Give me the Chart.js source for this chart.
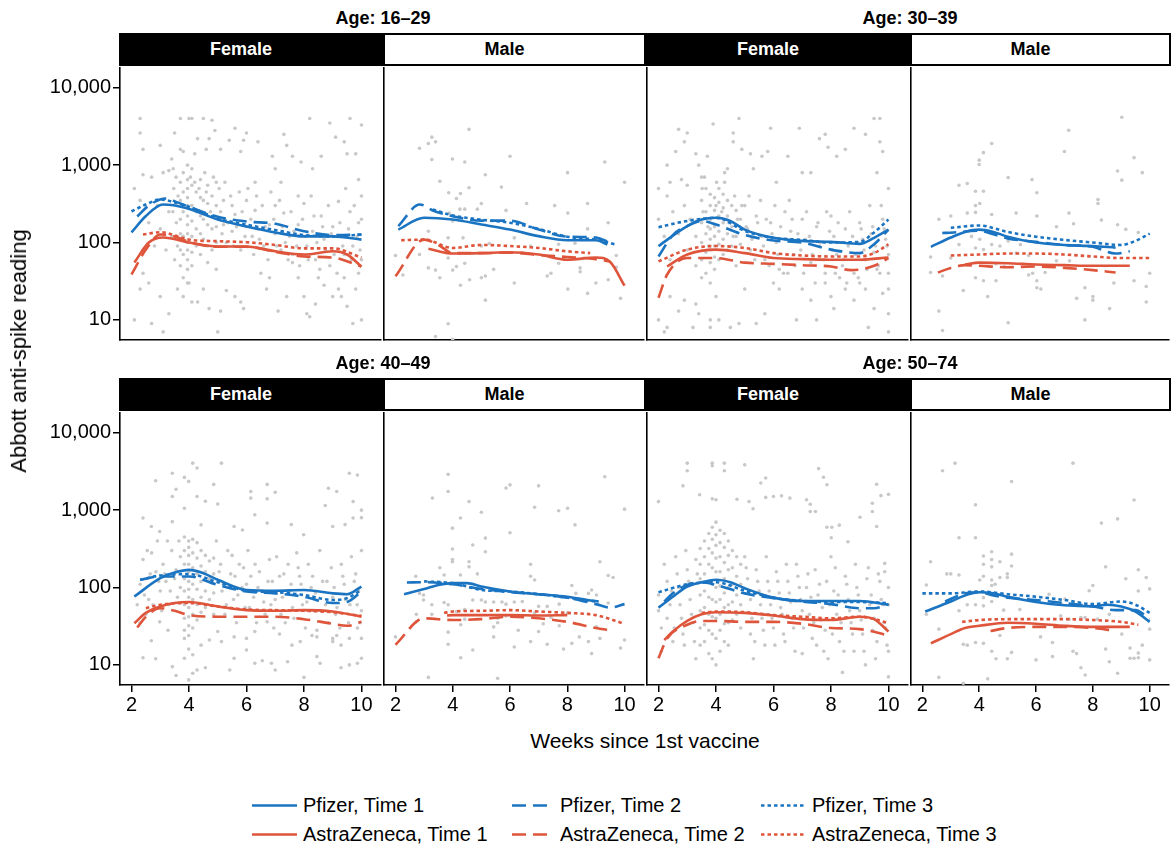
<!DOCTYPE html>
<html><head><meta charset="utf-8">
<script src="https://cdn.jsdelivr.net/npm/chart.js@4"></script>
<style>
body{margin:0;width:1171px;height:852px;position:relative;background:#fff;font-family:"Liberation Sans",Arial,Helvetica,sans-serif;overflow:hidden;color:#000}
canvas{position:absolute}
.strip{position:absolute;height:33px;box-sizing:border-box;font-weight:bold;font-size:18px;display:flex;align-items:center;justify-content:center;padding-right:20px}
.f{background:#000;color:#fff}
.m{background:#fff;border:2px solid #000;color:#000}
.age{position:absolute;font-weight:bold;font-size:18px;transform:translate(-50%,-50%);white-space:nowrap}
.lab{position:absolute;white-space:nowrap}
.leg{position:absolute;font-size:20px;white-space:nowrap;display:flex;align-items:center;transform:translateY(-50%)}
.leg svg{margin-right:5px}
</style>
</head><body>
<script>
// ---------- axis ticks / labels ----------
const weekTicks = [2, 4, 6, 8, 10];
const readingTicks = [10, 100, 1000, 10000];
const readingTickLabels = ['10', '100', '1,000', '10,000'];
const ageGroups = ['Age: 16–29', 'Age: 30–39', 'Age: 40–49', 'Age: 50–74'];
const sexes = ['Female', 'Male'];
const seriesNames = ['Pfizer, Time 1', 'Pfizer, Time 2', 'Pfizer, Time 3', 'AstraZeneca, Time 1', 'AstraZeneca, Time 2', 'AstraZeneca, Time 3'];

// ---------- smoothed curves [week, reading] ----------
// Age 16-29 Female
const f1629_pf1 = [[2,135],[2.5,220],[3.1,310],[3.9,280],[5,198],[6,161],[7,135],[8,120],[9,120],[10,109]];
const f1629_pf2 = [[2.2,217],[2.6,300],[3.2,371],[3.6,330],[4,290],[5,215],[6,187],[7,175],[8,140],[9,125],[10,127]];
const f1629_pf3 = [[2,252],[2.5,310],[3,360],[3.5,330],[4,290],[5,205],[6,170],[7,145],[8,125],[9,120],[10,127]];
const f1629_az1 = [[2.1,55],[2.6,100],[3.1,116],[4,100],[5,89],[6,89],[7,77],[8,70],[9,77],[9.5,70],[10,49]];
const f1629_az2 = [[2,38.6],[2.5,81],[3,127],[3.5,120],[4,102],[5,88],[6,88],[7,76],[8,66],[9,64],[10,49]];
const f1629_az3 = [[2.4,127],[3,136],[4,109],[5,104],[6,101],[7,93],[8,84],[9,84],[10,64]];
// Age 16-29 Male
const m1629_pf1 = [[2.1,147],[3,209],[4,198],[5,171],[6,147],[7,121],[8,107],[9,107],[9.4,94]];
const m1629_pf2 = [[2.1,163],[2.85,310],[3.3,260],[4,219],[5,192],[6,192],[7,147],[8,119],[9,116],[9.4,103]];
const m1629_pf3 = [[3.3,267],[4,224],[5,197],[6,180],[7,150],[8,119],[9,109],[9.7,94]];
const m1629_az1 = [[3.15,83],[4,72],[5,73],[6,75],[7,70],[8,60],[9,64],[9.5,56],[10,27.7]];
const m1629_az2 = [[2,36.6],[3,109],[3.5,93],[4,73],[5,73],[6,74],[7,69],[8,65],[9,61],[9.5,57]];
const m1629_az3 = [[2.2,107],[3,109],[4,85],[5,93],[6,90],[7,85],[8,77],[8.8,73]];
// Age 30-39 Female
const f3039_pf1 = [[2,90],[3,163],[3.5,198],[4,209],[4.5,190],[5,147],[6,115],[7,105],[8,102],[9,96],[9.5,115],[10,147]];
const f3039_pf2 = [[2,66],[2.5,125],[3,163],[3.5,190],[4,171],[5,125],[6,106],[7,100],[8,81],[9,73],[9.5,95],[10,147]];
const f3039_pf3 = [[2,158],[3,190],[4,209],[5,141],[6,115],[7,108],[8,100],[9,102],[9.5,135],[10,198]];
const f3039_az1 = [[2.3,49],[3,70],[4,81],[5,73],[6,63],[7,61],[8,60],[9,60],[10,64]];
const f3039_az2 = [[2,19.3],[2.3,38.6],[3,63],[4,63],[5,55],[6,53],[7,51],[8,49],[8.7,44],[9.5,50],[10,63]];
const f3039_az3 = [[2,57],[3,81],[4,90],[5,85],[6,73],[7,68],[8,66],[9,66],[9.5,73],[10,95]];
// Age 30-39 Male
const m3039_pf1 = [[2.3,88],[3,116],[3.5,137],[4,147],[4.5,137],[5,119],[6,100],[7,93],[8,90],[8.8,86]];
const m3039_pf2 = [[2.7,133],[3,134],[4,142],[4.5,128],[5,113],[6,102],[7,93],[8,88],[8.8,72],[9.3,77]];
const m3039_pf3 = [[3,155],[4,166],[5,137],[6,119],[7,108],[8,100],[9,93],[9.5,105],[10,130]];
const m3039_az1 = [[3.5,52],[4,55],[5,54],[6,52],[7,51],[8,50],[9.3,50]];
const m3039_az2 = [[2.55,41],[3,47],[3.5,51],[4,50],[5,48],[6,49],[7,47],[8,44],[8.8,41]];
const m3039_az3 = [[3,68],[4,70],[5,72],[6,72],[7,70],[8,66],[9,63],[10,63]];
// Age 40-49 Female
const f4049_pf1 = [[2.1,76.5],[3,132],[3.5,156],[4,169],[4.5,153],[5,126],[6,93],[7,91],[8,93],[9,84],[9.5,82],[10,103]];
const f4049_pf2 = [[2.3,126],[3,139],[4,139],[5,108],[6,89],[7,84],[8,76],[9,63],[9.5,65],[10,89]];
const f4049_pf3 = [[2.3,126],[3,143],[4,149],[5,117],[6,91],[7,87],[8,80],[9,69],[9.5,73],[10,93]];
const f4049_az1 = [[2.1,34.6],[2.5,47],[3,57],[3.5,63],[4,65],[5,57],[6,51],[7,50],[8,51],[9,49],[10,42]];
const f4049_az2 = [[2.2,30.4],[2.5,42],[3,54],[3.5,50],[4,44],[5,42],[6,42],[7,42],[8,39],[9,34],[9.5,32],[10,36]];
const f4049_az3 = [[2.5,54],[3,60],[4,63],[5,57],[6,52],[7,51],[8,50],[9,48],[10,43]];
// Age 40-49 Male
const m4049_pf1 = [[2.3,82],[3,96],[3.5,108],[4,114],[4.5,114],[5,103],[6,89],[7,82],[8,76],[8.7,69],[9.1,66]];
const m4049_pf2 = [[2.4,116],[3,117],[4,110],[5,96],[6,87],[7,82],[8,74],[9,61],[9.5,55],[10,61]];
const m4049_pf3 = [[3,120],[4,114],[5,93],[6,89],[7,82],[8,74],[9,66]];
const m4049_az1 = [[3.8,43.5],[4,44],[5,44],[6,44],[7,43.5],[8,44]];
const m4049_az2 = [[2,18.2],[3,40],[4,38],[5,39],[6,42],[7,40],[8,36],[9,30],[9.5,28]];
const m4049_az3 = [[3.7,47],[4,49],[5,50],[6,51],[7,49],[8,47],[9,44],[10,34]];
// Age 50-74 Female
const f5074_pf1 = [[2,55],[2.5,76],[3,103],[3.5,117],[4,126],[4.5,117],[5,98],[6,74],[7,67],[8,67],[9,67],[10,60]];
const f5074_pf2 = [[2.2,66],[2.5,84],[3,108],[3.5,117],[4,108],[5,84],[6,73],[7,66],[8,61],[9,54],[9.5,54],[10,61]];
const f5074_pf3 = [[2,87],[3,110],[4,117],[5,91],[6,74],[7,67],[8,65],[9,65],[10,63]];
const f5074_az1 = [[2.2,21],[2.5,27],[3,37],[3.5,45],[4,48],[5,47],[6,43.5],[7,39],[8,38],[9,42],[9.5,39],[10,27]];
const f5074_az2 = [[2,12.2],[2.3,22],[3,33],[3.5,37],[4,37],[5,36],[6,36],[7,34],[8,30],[9,29],[10,24]];
const f5074_az3 = [[3.5,47],[4,49],[5,48],[6,44],[7,42],[8,40],[9,42],[10,35]];
// Age 50-74 Male
const m5074_pf1 = [[2.1,49],[3,66],[3.5,79],[4,87],[4.5,84],[5,76],[6,65],[7,59],[8,57],[8.5,60],[9,57],[9.5,49],[10,36]];
const m5074_pf2 = [[2.8,66],[3.5,84],[4,87],[4.5,79],[5,74],[6,69],[7,63],[8,57],[8.8,51],[9.5,51],[10,39]];
const m5074_pf3 = [[2,84],[3,84],[4,89],[5,82],[6,76],[7,69],[8,61],[9,66],[9.5,60],[10,47]];
const m5074_az1 = [[2.3,19],[3,25],[3.5,30],[4,32],[5,35],[6,34],[7,32],[8,31],[9.3,31]];
const m5074_az2 = [[4.4,27.5],[5,30],[6,31],[7,31],[8,30],[8.8,27.5]];
const m5074_az3 = [[3.4,36],[4,38],[5,39],[6,39],[7,39],[8,38],[9,36],[9.6,33]];

// ---------- individual readings [week, reading] ----------
const f1629_pts = [[2.3,4000],[2.3,2600],[2.4,1600],[2.1,500],[2.3,350],[2.4,750],[2.7,700],[3.0,1800],[3.1,800],[3.3,850],[3.4,1200],[3.5,2600],[3.7,4000],[3.7,1600],[3.8,1500],[4.0,4000],[4.1,4000],[4.2,1400],[4.3,2200],[4.5,4000],[4.6,1600],[4.7,2200],[4.8,3800],[4.9,2800],[5.1,1600],[5.4,2100],[5.6,3000],[5.8,1500],[5.9,2100],[6.0,2600],[6.3,600],[6.4,2000],[6.9,1300],[7.0,900],[7.2,600],[7.3,2500],[7.4,1800],[7.6,1300],[7.8,400],[7.9,1100],[8.2,4000],[8.3,900],[8.6,1300],[8.9,3500],[9.1,2300],[9.4,2000],[9.5,1400],[9.6,4000],[9.8,1400],[10.0,3300],[9.9,650],[10.0,400],
[2.1,10],[2.7,9],[3.1,7],[3.3,12],[3.0,20],[2.4,40],[2.6,30],[2.3,25],[3.6,25],[3.8,20],[4.0,30],[4.1,17],[4.3,17],[4.5,25],[4.7,14],[5.0,7],[5.1,13],[5.3,24],[5.6,20],[5.8,17],[5.9,14],[6.5,40],[6.7,25],[6.8,35],[7.1,13],[7.4,20],[7.6,55],[7.8,35],[8.0,20],[8.1,12],[8.2,11],[8.4,16],[8.5,35],[8.7,28],[9.0,20],[9.2,25],[9.3,20],[9.4,35],[9.5,15],[9.7,9],[9.8,25],[10.0,10],[9.9,40],
[3.7,600],[3.7,350],[3.7,200],[3.7,130],[3.7,80],[3.7,50],[3.8,800],[3.8,450],[3.8,250],[3.8,120],[3.8,70],[3.8,35],[3.95,1000],[3.95,650],[3.95,500],[3.95,380],[3.95,300],[3.95,220],[3.95,170],[3.95,130],[3.95,100],[3.95,80],[3.95,60],[3.95,45],[3.95,30],[4.1,900],[4.1,550],[4.1,300],[4.1,190],[4.1,120],[4.1,75],[4.1,50],[4.25,450],[4.25,250],[4.25,150],[4.25,90],[4.4,650],[4.4,380],[4.4,220],[4.4,130],[4.4,70],[4.5,350],[4.5,200],[4.5,110],[4.65,550],[4.65,320],[4.65,170],[4.65,90],[4.65,55],[4.8,400],[4.8,150],[4.8,80],[4.95,600],[4.95,300],[4.95,160],[4.95,100],[4.95,45],
[5.2,350],[5.2,170],[5.3,100],[5.5,300],[5.5,140],[5.6,230],[5.8,80],[6.0,350],[6.0,160],[6.2,120],[6.3,260],[6.4,150],[6.6,90],[6.8,170],[7.0,300],[7.0,130],[7.2,80],[7.3,240],[7.5,120],[7.6,70],[7.8,170],[8.0,320],[8.1,90],[8.3,140],[8.4,60],[8.6,220],[8.7,110],[8.9,50],[9.0,160],[9.2,340],[9.3,120],[9.4,70],[9.6,250],[9.7,90],[9.9,180],[10.0,60],[2.9,300],[3.0,150],[3.2,80],[3.3,250],[3.4,120],[3.5,60],[2.8,90],[2.6,180],[2.4,80]];
const f1629_more = [[3.45,900],[3.47,500],[3.44,250],[3.55,700],[3.56,180],[3.62,400],[3.6,90],[4.05,700],[4.2,600],[4.35,500],[4.55,800],[4.6,450],[4.75,250],[4.85,700],[5.05,500],[5.1,250],[5.15,130],[5.25,600],[5.35,180],[5.45,400],[5.55,90],[5.65,160],[5.75,450],[5.85,250],[5.95,120],[6.05,500],[6.15,200],[6.25,70],[6.35,400],[6.45,110],[6.55,300],[6.65,160],[6.75,60],[6.85,450],[6.95,200],[7.05,90],[7.15,350],[7.25,160],[7.35,100],[7.45,60],[7.55,250],[7.65,140],[7.75,90],[7.85,50],[7.95,200],[8.05,120],[8.15,60],[8.25,400],[8.35,220],[8.45,100],[8.55,45],[8.65,160],[8.75,80],[8.85,300],[8.95,130],[9.05,70],[9.15,40],[9.25,180],[9.35,90],[9.45,500],[9.55,150],[9.65,60],[9.75,300],[9.85,120],[9.95,80],[10.0,200]];
const m1629_pts = [[4.57,2900],[3.27,2300],[3.15,1900],[3.4,2000],[2.84,1650],[3.27,1180],[3.99,1200],[4.42,1100],[6.0,1300],[5.14,750],[3.55,620],[4.57,510],[5.7,520],[3.86,440],[4.27,430],[4.13,370],[5.0,320],[4.25,270],[4.42,270],[4.86,270],[5.86,260],[6.58,320],[7.56,300],[8.01,800],[8.71,320],[9.31,1100],[10.0,600],[8.02,240],[8.71,150],[3.88,240],[4.0,190],[3.15,140],[3.84,115],[4.36,115],[5.28,97],[5.0,90],[6.15,115],[6.72,90],[7.7,95],[8.27,98],[9.43,180],[9.71,68],[2.84,70],[2.0,68],[2.26,38],[3.15,47],[3.4,44],[3.55,35],[3.84,63],[4.0,44],[4.13,49],[4.42,54],[4.59,33],[5.0,35],[5.14,37],[5.43,45],[6.15,30],[6.43,73],[7.3,37],[7.43,40],[7.7,54],[8.45,47],[8.45,42],[8.71,22],[9.0,30],[9.43,33],[9.71,48],[9.86,19],[8.02,25],[5.14,18],[4.27,28],[3.84,8.9],[3.4,6.1],[4.0,5.6]];
const f3039_pts = [[2.7,2900],[3.0,2600],[2.9,2000],[2.6,1500],[2.3,1000],[2.0,500],[2.4,600],[2.8,650],[3.0,550],[3.3,1400],[3.4,1000],[3.5,700],[3.7,1300],[3.9,3400],[4.3,800],[4.4,900],[4.6,2600],[4.6,2000],[4.8,4000],[4.9,1600],[5.2,1400],[5.3,900],[5.6,1300],[5.8,1500],[5.9,3000],[6.1,600],[6.5,1300],[6.9,3000],[7.0,800],[7.3,800],[7.6,2200],[7.8,2500],[7.9,1700],[8.2,1300],[8.5,1600],[8.8,3000],[9.2,2500],[9.5,4000],[9.7,4000],[9.7,2000],[9.8,1500],[9.6,800],
[2.0,10],[2.3,8],[2.2,7],[2.4,20],[2.7,13],[2.9,18],[3.2,8],[3.3,16],[3.4,12],[3.8,10],[3.8,8],[4.1,10],[4.2,5],[4.0,20],[4.5,8],[4.8,9],[5.0,25],[5.4,9],[5.7,12],[6.0,30],[6.2,25],[6.5,40],[6.8,10],[7.0,25],[7.3,18],[7.5,10],[7.8,30],[8.0,20],[8.1,14],[8.3,35],[8.5,25],[8.8,18],[9.0,30],[9.2,25],[9.3,8],[9.5,14],[9.7,40],[9.8,22],[10.0,12],[10.0,7],
[3.5,350],[3.5,180],[3.5,100],[3.5,60],[3.5,35],[3.65,500],[3.65,250],[3.65,130],[3.65,75],[3.65,40],[3.8,420],[3.8,300],[3.8,200],[3.8,150],[3.8,110],[3.8,80],[3.8,55],[3.8,30],[3.95,380],[3.95,260],[3.95,160],[3.95,120],[3.95,90],[3.95,65],[3.95,45],[4.1,500],[4.1,330],[4.1,220],[4.1,140],[4.1,95],[4.1,60],[4.25,420],[4.25,280],[4.25,180],[4.25,110],[4.25,70],[4.4,350],[4.4,220],[4.4,130],[4.4,80],[4.55,300],[4.55,160],[4.55,90],[4.7,260],[4.7,120],[4.7,50],[4.85,200],[4.85,95],[2.3,400],[2.5,250],[2.7,130],[2.9,300],[3.0,80],[3.1,200],[3.3,120],[3.3,50],[2.4,60],[2.2,120],[2.0,200],
[5.0,300],[5.1,150],[5.2,80],[5.4,220],[5.6,120],[5.7,60],[5.9,180],[6.1,100],[6.2,45],[6.4,250],[6.6,140],[6.7,70],[7.0,200],[7.1,110],[7.3,55],[7.5,160],[7.6,90],[7.8,40],[8.0,220],[8.1,120],[8.2,70],[8.4,50],[8.5,150],[8.6,90],[8.8,40],[9.0,180],[9.1,110],[9.2,60],[9.4,130],[9.5,75],[9.6,45],[9.8,200],[9.9,110],[10.0,70],[10.0,40]];
const f3039_more = [[3.52,500],[3.55,250],[3.6,700],[3.72,160],[3.75,90],[4.02,600],[4.0,300],[4.2,250],[4.3,600],[4.45,180],[4.6,120],[4.65,400],[4.75,200],[4.9,300],[5.05,160],[5.15,400],[5.25,110],[5.35,60],[5.45,180],[5.55,350],[5.65,90],[5.75,200],[5.85,50],[5.95,130],[6.05,300],[6.15,70],[6.25,160],[6.35,40],[6.45,110],[6.55,350],[6.65,200],[6.75,50],[6.85,130],[6.95,80],[7.05,40],[7.15,250],[7.25,120],[7.35,70],[7.45,30],[7.55,180],[7.65,100],[7.75,60],[7.85,250],[7.95,140],[8.05,80],[8.15,40],[8.25,180],[8.35,100],[8.45,60],[8.55,30],[8.65,250],[8.75,120],[8.85,70],[8.95,35],[9.05,150],[9.15,80],[9.25,45],[9.35,300],[9.45,160],[9.55,90],[9.65,50],[9.75,300],[9.85,150],[9.95,90],[10.0,500],[10.0,25]];
const m3039_pts = [[9.02,4150],[7.15,2830],[7.0,1500],[4.44,1900],[4.15,1450],[4.0,1160],[4.0,1020],[9.45,1250],[8.87,840],[9.02,640],[9.74,800],[5.02,690],[5.86,650],[3.29,550],[3.58,580],[6.03,440],[3.87,460],[4.15,460],[8.18,360],[8.18,320],[4.02,320],[3.87,300],[2.58,200],[3.0,220],[3.58,240],[3.87,245],[4.44,230],[5.3,240],[6.03,220],[7.16,240],[8.3,195],[8.87,170],[9.16,148],[9.6,135],[6.72,160],[7.32,175],[3.29,94],[3.73,120],[4.02,110],[4.44,94],[4.73,90],[5.02,105],[5.45,94],[4.15,81],[3.87,85],[3.0,63],[2.29,65],[2.29,41],[2.71,37],[3.44,24],[3.87,35],[4.15,32],[4.59,32],[4.3,20],[4.59,53],[4.88,49],[5.3,73],[5.74,68],[5.74,38],[5.88,40],[6.03,32],[6.03,26],[6.17,25],[6.32,41],[6.72,58],[7.18,58],[7.43,19],[7.72,26],[7.72,10],[8.0,20],[8.0,18],[8.59,14],[8.74,30],[9.45,32],[9.88,27],[9.88,17],[10.0,40],[2.58,13],[2.71,7.3],[5.02,9.2]];
const f4049_pts = [[4.13,4050],[5.13,4050],[3.42,3000],[2.84,2400],[3.84,2650],[3.99,2350],[4.28,3500],[3.55,1860],[3.42,1500],[3.84,1060],[4.28,1500],[4.57,1300],[4.86,2150],[5.0,1200],[6.15,1740],[6.15,1430],[6.72,2150],[7.0,1700],[6.72,1400],[8.85,1920],[8.74,1150],[9.14,1740],[9.58,3000],[9.86,2850],[9.71,1290],[10.0,1000],[10.0,800],[2.4,790],[2.69,615],[2.98,530],[3.42,710],[4.42,645],[5.57,615],[5.86,555],[6.29,870],[6.72,680],[7.56,650],[7.99,480],[9.0,615],[9.43,650],[9.71,790],
[2.4,12.4],[2.84,12],[3.42,9.5],[3.55,7.3],[3.84,12.2],[3.99,6.4],[4.13,7.8],[4.28,8.6],[4.57,9.2],[5.13,20],[5.42,8.6],[5.57,12.2],[6.0,15.6],[6.29,10.5],[6.55,11.3],[6.87,10.5],[7.0,8.6],[7.43,11],[8.0,6.9],[8.45,12.8],[8.56,10.5],[9.0,20],[9.29,9.2],[9.58,10],[9.86,10.5],[10.0,12.2],[2.69,20.5],[2.98,36],[3.27,28],[3.84,22],[3.99,16],[4.13,13.5],[4.42,18],[4.71,21],[5.0,27],[5.57,23],[6.0,22],[6.29,27],[6.72,36],[7.15,25],[7.58,18],[7.87,20],[8.28,24],[8.45,23],[9.0,22],[9.14,24],[9.29,18],[9.58,22],[9.86,30],[10.0,22],
[3.84,450],[3.84,300],[3.84,200],[3.84,130],[3.84,90],[3.84,60],[3.84,40],[3.84,28],[3.99,400],[3.99,330],[3.99,260],[3.99,200],[3.99,160],[3.99,120],[3.99,95],[3.99,75],[3.99,55],[3.99,42],[3.99,32],[3.99,24],[4.13,420],[4.13,280],[4.13,180],[4.13,110],[4.13,70],[4.13,45],[4.13,30],[4.28,380],[4.28,240],[4.28,150],[4.28,95],[4.28,60],[4.28,38],[4.42,300],[4.42,190],[4.42,120],[4.42,75],[4.42,48],[4.57,260],[4.57,160],[4.57,90],[4.57,55],[4.71,220],[4.71,130],[4.71,70],[4.86,240],[4.86,150],[4.86,85],[4.86,45],
[2.4,230],[2.5,130],[2.6,70],[2.7,280],[2.85,160],[3.0,90],[3.1,200],[3.2,120],[3.3,60],[3.4,300],[3.55,170],[3.6,75],[3.7,250],[5.1,200],[5.2,110],[5.3,60],[5.5,260],[5.6,140],[5.7,80],[5.9,180],[6.0,110],[6.1,55],[6.3,200],[6.4,100],[6.6,65],[6.8,230],[6.9,120],[7.0,70],[7.2,45],[7.3,150],[7.5,90],[7.6,55],[7.8,180],[7.9,110],[8.1,65],[8.3,140],[8.4,85],[8.6,50],[8.8,120],[9.0,75],[9.1,45],[9.3,200],[9.4,110],[9.6,60],[9.8,150],[9.9,90],[10.0,50],[2.2,60],[2.3,35],[2.5,45]];
const f4049_more = [[2.3,110],[2.45,80],[2.55,300],[2.65,150],[2.75,60],[2.9,400],[2.95,120],[3.05,50],[3.15,150],[3.25,400],[3.35,90],[3.5,130],[3.65,400],[3.7,100],[4.95,400],[5.05,160],[5.15,90],[5.25,45],[5.35,300],[5.45,150],[5.55,70],[5.65,35],[5.75,200],[5.85,100],[5.95,55],[6.05,300],[6.15,140],[6.25,75],[6.35,35],[6.45,160],[6.55,90],[6.65,45],[6.75,120],[6.85,60],[6.95,30],[7.05,250],[7.15,140],[7.25,75],[7.35,35],[7.45,200],[7.55,110],[7.65,40],[7.75,280],[7.85,140],[7.95,60],[8.05,30],[8.15,200],[8.25,100],[8.35,50],[8.45,28],[8.55,300],[8.65,120],[8.75,60],[8.85,35],[8.95,180],[9.05,100],[9.15,55],[9.25,30],[9.35,140],[9.45,70],[9.55,35],[9.65,250],[9.75,120],[9.85,60],[9.95,35],[10.0,300]];
const m4049_pts = [[3.84,2900],[9.31,2700],[3.84,1740],[5.86,1930],[6.0,2120],[7.0,2060],[3.29,1430],[4.57,1290],[6.86,1090],[7.7,980],[8.01,1060],[5.0,940],[10.0,1030],[4.27,790],[8.27,645],[3.99,585],[6.0,510],[5.14,435],[4.7,355],[3.99,315],[5.14,290],[6.72,200],[3.99,230],[3.99,215],[4.57,215],[4.57,185],[3.55,180],[4.86,150],[4.27,145],[3.7,145],[6.72,140],[6.86,125],[2.71,140],[9.14,215],[9.43,143],[9.6,135],[8.16,106],[8.85,93],[9.02,80],[8.74,84],[2.84,84],[2.98,80],[2.98,69],[3.27,60],[3.7,64],[3.84,60],[4.13,49],[4.42,52],[4.7,69],[5.0,69],[5.14,65],[5.43,65],[5.72,65],[5.86,61],[6.15,65],[6.43,66],[6.86,47],[7.0,57],[7.3,57],[7.72,61],[8.01,47],[8.3,84],[2.73,45],[2.73,36],[3.27,45],[3.84,18.5],[3.84,26.5],[4.28,33],[4.42,39],[4.7,15.6],[5.43,31],[5.43,23],[5.57,35],[5.57,40],[5.86,43],[6.15,17],[6.29,28],[6.72,20],[7.0,27],[7.16,34],[7.3,18.5],[7.43,41],[7.72,32],[7.87,16],[8.16,19],[8.42,23],[8.74,20],[8.85,14],[9.02,31],[9.14,22],[9.43,63],[9.86,16.5],[10.0,21],[2.0,23],[4.28,12.4],[3.15,6.9],[5.57,6.7]];
const f5074_pts = [[3.0,4050],[3.0,3230],[3.87,4050],[4.29,4050],[3.87,3750],[4.29,3230],[5.0,3850],[5.73,2600],[5.56,2240],[2.0,1290],[2.85,2060],[3.43,1580],[3.87,1400],[4.0,1360],[4.73,1380],[5.15,1290],[5.29,1040],[5.73,1460],[6.0,1500],[6.28,1530],[6.57,1430],[7.15,1360],[7.28,1190],[7.57,3440],[7.74,2660],[7.86,2130],[7.28,960],[7.46,960],[7.86,600],[8.03,600],[8.01,440],[8.29,640],[8.59,390],[9.01,810],[9.59,2160],[9.74,1540],[10.0,1600],[9.44,1230],[9.44,960],[9.59,615],[9.87,205],[9.87,160],
[3.45,320],[3.45,200],[3.45,130],[3.45,80],[3.45,50],[3.45,30],[3.45,18],[3.6,400],[3.6,250],[3.6,150],[3.6,90],[3.6,55],[3.6,33],[3.6,20],[3.75,500],[3.75,320],[3.75,200],[3.75,120],[3.75,75],[3.75,45],[3.75,28],[3.75,14],[3.87,600],[3.87,420],[3.87,280],[3.87,180],[3.87,110],[3.87,70],[3.87,42],[3.87,25],[3.87,12],[4.0,700],[4.0,480],[4.0,350],[4.0,240],[4.0,160],[4.0,100],[4.0,65],[4.0,40],[4.0,22],[4.0,10],[4.14,550],[4.14,380],[4.14,250],[4.14,160],[4.14,105],[4.14,70],[4.14,45],[4.14,28],[4.14,15],[4.29,500],[4.29,330],[4.29,210],[4.29,130],[4.29,85],[4.29,55],[4.29,34],[4.29,20],[4.43,400],[4.43,260],[4.43,170],[4.43,100],[4.43,60],[4.43,35],[4.43,18],[4.57,300],[4.57,180],[4.57,110],[4.57,65],[4.57,38],[4.72,250],[4.72,140],[4.72,80],[4.72,45],[4.86,200],[4.86,110],[4.86,60],[4.86,30],
[2.0,80],[2.0,50],[2.1,30],[2.1,15],[2.3,120],[2.4,60],[2.5,20],[2.6,250],[2.7,100],[2.8,40],[2.9,18],[3.0,170],[3.1,70],[3.2,35],[3.3,12],[3.3,230],[5.0,250],[5.1,130],[5.2,70],[5.2,25],[5.3,12],[5.4,170],[5.5,90],[5.6,40],[5.7,18],[5.8,120],[5.9,60],[6.0,30],[6.1,160],[6.2,85],[6.3,45],[6.4,20],[6.5,120],[6.6,65],[6.7,30],[6.8,200],[6.9,100],[7.0,50],[7.0,14],[7.2,150],[7.3,75],[7.4,35],[7.5,18],[7.6,110],[7.7,55],[7.8,28],[7.9,12],[8.0,250],[8.1,90],[8.2,45],[8.3,20],[8.4,8],[8.5,140],[8.6,70],[8.7,35],[8.8,15],[8.9,100],[9.0,50],[9.1,25],[9.2,10],[9.3,180],[9.4,80],[9.5,40],[9.6,20],[9.7,120],[9.8,60],[9.9,30],[10.0,15],[10.0,100],[10.0,7]];
const f5074_more = [[2.2,200],[2.3,40],[2.45,90],[2.55,30],[2.65,150],[2.75,60],[2.85,25],[2.95,300],[3.05,120],[3.15,45],[3.25,20],[3.35,150],[5.05,180],[5.15,90],[5.25,40],[5.35,20],[5.45,120],[5.55,60],[5.65,28],[5.75,250],[5.85,90],[5.95,40],[6.05,18],[6.15,120],[6.25,55],[6.35,25],[6.45,200],[6.55,85],[6.65,40],[6.75,15],[6.85,140],[6.95,70],[7.05,30],[7.15,100],[7.25,45],[7.35,22],[7.45,170],[7.55,80],[7.65,38],[7.75,15],[7.85,120],[7.95,60],[8.05,25],[8.15,180],[8.25,80],[8.35,35],[8.45,15],[8.55,110],[8.65,50],[8.75,25],[8.85,200],[8.95,80],[9.05,38],[9.15,15],[9.25,130],[9.35,60],[9.45,28],[9.55,12],[9.65,150],[9.75,70],[9.85,35],[9.95,18],[10.0,60]];
const m5074_pts = [[3.15,4050],[2.71,3230],[7.3,4050],[5.14,2340],[3.87,1170],[9.45,1350],[8.87,770],[8.3,680],[3.29,440],[3.87,440],[4.15,255],[4.44,290],[4.44,230],[4.44,185],[4.73,215],[4.15,200],[5.14,270],[5.14,190],[2.29,215],[2.86,150],[3.0,150],[3.29,145],[4.99,150],[4.99,135],[4.73,135],[4.15,140],[4.02,125],[4.44,125],[4.56,110],[4.44,106],[8.45,185],[9.6,170],[9.88,135],[9.16,130],[10.0,96],[9.6,90],[8.0,106],[7.87,91],[2.14,108],[2.14,45],[2.58,29],[3.29,50],[3.58,60],[3.87,60],[4.15,74],[4.15,58],[4.44,66],[4.86,51],[5.43,52],[6.46,82],[6.87,63],[7.02,71],[6.87,43],[7.16,39],[7.58,41],[7.73,41],[8.16,39],[8.58,45],[9.02,25],[10.0,29],[3.44,18.5],[3.58,18],[3.87,19.5],[4.15,19],[4.44,15],[4.59,12],[4.73,24],[4.99,12],[5.14,14.5],[6.0,11.6],[6.16,23],[6.58,19.5],[6.58,12.8],[7.3,15],[7.43,14],[7.58,9.2],[7.73,7.4],[8.45,16],[8.58,11],[8.87,7.8],[9.31,16.5],[9.31,12.2],[9.45,12.2],[9.6,12.4],[9.6,14.2],[9.74,18],[10.0,11.6],[2.58,6.9],[4.3,6.6],[3.44,5.8]];

// ---------- layout ----------
const FONT = '"Liberation Sans", Arial, Helvetica, sans-serif';
const BLUE = '#1b74c1', RED = '#de553b', GREY = '#c8c8c8';
const rowTop = [68, 413], rowBottom = [340, 685];
const colLeft = [120, 384, 647, 911], colRight = [383, 646, 910, 1171];
const styles = [
  {c: BLUE, d: []}, {c: BLUE, d: [14, 7]}, {c: BLUE, d: [3.5, 3]},
  {c: RED, d: []}, {c: RED, d: [14, 7]}, {c: RED, d: [3.5, 3]}
];

const panels = [
  {row: 0, col: 0, pts: f1629_pts.concat(f1629_more), lines: [f1629_pf1, f1629_pf2, f1629_pf3, f1629_az1, f1629_az2, f1629_az3]},
  {row: 0, col: 1, pts: m1629_pts, lines: [m1629_pf1, m1629_pf2, m1629_pf3, m1629_az1, m1629_az2, m1629_az3]},
  {row: 0, col: 2, pts: f3039_pts.concat(f3039_more), lines: [f3039_pf1, f3039_pf2, f3039_pf3, f3039_az1, f3039_az2, f3039_az3]},
  {row: 0, col: 3, pts: m3039_pts, lines: [m3039_pf1, m3039_pf2, m3039_pf3, m3039_az1, m3039_az2, m3039_az3]},
  {row: 1, col: 0, pts: f4049_pts.concat(f4049_more), lines: [f4049_pf1, f4049_pf2, f4049_pf3, f4049_az1, f4049_az2, f4049_az3]},
  {row: 1, col: 1, pts: m4049_pts, lines: [m4049_pf1, m4049_pf2, m4049_pf3, m4049_az1, m4049_az2, m4049_az3]},
  {row: 1, col: 2, pts: f5074_pts.concat(f5074_more), lines: [f5074_pf1, f5074_pf2, f5074_pf3, f5074_az1, f5074_az2, f5074_az3]},
  {row: 1, col: 3, pts: m5074_pts, lines: [m5074_pf1, m5074_pf2, m5074_pf3, m5074_az1, m5074_az2, m5074_az3]}
];

function addDiv(cls, text, css) {
  const d = document.createElement('div');
  d.className = cls; d.textContent = text;
  Object.assign(d.style, css);
  document.body.appendChild(d);
  return d;
}

function makePanel(p) {
  const {row, col} = p;
  const padL = col === 0 ? 120 : 4, padT = 18, padR = 2, padB = row === 1 ? 44 : 18;
  const w = colRight[col] - colLeft[col], h = rowBottom[row] - rowTop[row];
  const W = padL + w + padR, H = padT + h + padB;
  const cv = document.createElement('canvas');
  cv.width = W; cv.height = H;
  Object.assign(cv.style, {left: (colLeft[col] - padL) + 'px', top: (rowTop[row] - padT) + 'px', width: W + 'px', height: H + 'px'});
  document.body.appendChild(cv);

  const datasets = [{
    type: 'scatter', data: p.pts, showLine: false, pointRadius: 1.8, pointBorderWidth: 0,
    pointBackgroundColor: GREY, backgroundColor: GREY, borderColor: GREY, order: 10
  }];
  p.lines.forEach((ln, i) => datasets.push({
    type: 'line', label: seriesNames[i], data: ln, borderColor: styles[i].c, borderDash: styles[i].d,
    borderWidth: 2.6, pointRadius: 0, fill: false, cubicInterpolationMode: 'monotone', order: i
  }));

  new Chart(cv, {
    type: 'line',
    data: {datasets},
    options: {
      responsive: false, animation: false, events: [],
      layout: {padding: {top: padT, right: padR, left: 0, bottom: 0}},
      plugins: {legend: {display: false}, tooltip: {enabled: false}},
      scales: {
        x: {
          type: 'linear', min: 1.6, max: 10.68, bounds: 'data',
          afterBuildTicks: s => { s.ticks = weekTicks.map(v => ({value: v})); },
          afterFit: s => { s.height = padB; },
          ticks: {display: row === 1, color: '#000', font: {family: FONT, size: 20}, padding: 1, maxRotation: 0, autoSkip: false},
          grid: {display: row === 1, drawOnChartArea: false, drawTicks: true, tickLength: 7, color: '#000', lineWidth: 1.5},
          border: {display: true, color: '#000', width: 1.6}
        },
        y: {
          type: 'logarithmic', min: 5.5, max: 18000, bounds: 'data',
          afterBuildTicks: s => { s.ticks = readingTicks.map(v => ({value: v})); },
          afterFit: s => { s.width = padL; },
          ticks: {display: col === 0, color: '#000', font: {family: FONT, size: 20}, padding: 2, autoSkip: false,
                  callback: v => readingTickLabels[readingTicks.indexOf(v)]},
          grid: {display: col === 0, drawOnChartArea: false, drawTicks: true, tickLength: 7, color: '#000', lineWidth: 1.5},
          border: {display: true, color: '#000', width: 1.6}
        }
      }
    }
  });

  // strip
  const female = col % 2 === 0;
  addDiv('strip ' + (female ? 'f' : 'm'), sexes[female ? 0 : 1],
    {left: (colLeft[col] - 1) + 'px', top: (rowTop[row] - 35) + 'px', width: (colRight[col] - colLeft[col] + 1) + 'px'});
}

panels.forEach(makePanel);

// age group headers
addDiv('age', ageGroups[0], {left: colRight[0] + 'px', top: '18px'});
addDiv('age', ageGroups[1], {left: colRight[2] + 'px', top: '18px'});
addDiv('age', ageGroups[2], {left: colRight[0] + 'px', top: '363px'});
addDiv('age', ageGroups[3], {left: colRight[2] + 'px', top: '363px'});

// axis titles
addDiv('lab', 'Weeks since 1st vaccine', {left: '645px', top: '741px', fontSize: '21px', transform: 'translate(-50%,-50%)'});
addDiv('lab', 'Abbott anti-spike reading', {left: '19px', top: '351px', fontSize: '22px', transform: 'translate(-50%,-50%) rotate(-90deg)'});

// legend
const legX = [251, 511, 760], legY = [805, 834];
seriesNames.forEach((name, i) => {
  const r = i < 3 ? 0 : 1, c = i % 3;
  const d = document.createElement('div');
  d.className = 'leg';
  d.style.left = legX[c] + 'px'; d.style.top = legY[r] + 'px';
  const sw = c === 1 ? 44 : 47;
  const dash = styles[i].d.length ? `stroke-dasharray="${styles[i].d.join(' ')}"` : '';
  d.innerHTML = `<svg width="${sw}" height="8"><line x1="1" y1="4" x2="${sw - 1}" y2="4" stroke="${styles[i].c}" stroke-width="2.6" ${dash}/></svg><span>${name}</span>`;
  document.body.appendChild(d);
});
</script>
</body></html>
